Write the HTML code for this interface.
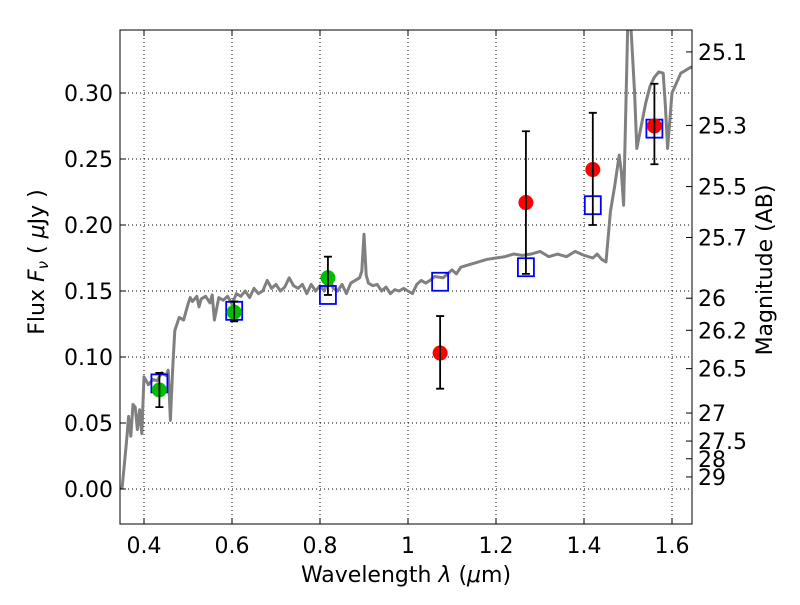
<!DOCTYPE html>
<html><head><meta charset="utf-8"><style>
body{margin:0;background:#fff;}
svg text{font-family:"DejaVu Sans","Liberation Sans",sans-serif;font-size:22px;fill:#000;}
</style></head><body>
<svg id="chart" width="800" height="600" xmlns="http://www.w3.org/2000/svg">
<defs><clipPath id="clip"><rect x="120" y="30" width="572" height="494"/></clipPath></defs>
<g id="grid"></g>
<g id="marks" clip-path="url(#clip)"></g>
<rect x="120" y="30" width="572" height="494" fill="none" stroke="#000" stroke-width="1"/>
<g id="axes"></g>
<text x="406" y="582" text-anchor="middle">Wavelength  <tspan font-style="italic">λ</tspan> (<tspan font-style="italic">μ</tspan>m)</text>
<text transform="translate(44,262) rotate(-90)" text-anchor="middle">Flux  <tspan font-style="italic">F<tspan font-size="15" dy="4">ν</tspan></tspan><tspan dy="-4">  (  </tspan><tspan font-style="italic">μ</tspan>Jy )</text>
<text transform="translate(772,270) rotate(-90)" text-anchor="middle">Magnitude (AB)</text>
</svg>
<script>
const xTicks=[0.4,0.6,0.8,1.0,1.2,1.4,1.6];
const xTickLabels=["0.4","0.6","0.8","1","1.2","1.4","1.6"];
const yTicks=[0,0.05,0.10,0.15,0.20,0.25,0.30];
const yTickLabels=["0.00","0.05","0.10","0.15","0.20","0.25","0.30"];
const magTicks=[25.1,25.3,25.5,25.7,26,26.2,26.5,27,27.5,28,29];
const specWave=[0.35,0.36,0.365,0.37,0.375,0.38,0.385,0.39,0.395,0.40,0.41,0.42,0.43,0.44,0.45,0.455,0.46,0.465,0.47,0.48,0.49,0.50,0.505,0.51,0.52,0.525,0.53,0.54,0.55,0.555,0.56,0.57,0.58,0.59,0.60,0.61,0.62,0.63,0.64,0.65,0.66,0.67,0.68,0.69,0.70,0.71,0.72,0.73,0.74,0.75,0.76,0.77,0.78,0.79,0.80,0.81,0.82,0.83,0.84,0.85,0.86,0.87,0.88,0.89,0.895,0.90,0.905,0.91,0.92,0.93,0.94,0.95,0.96,0.97,0.98,0.99,1.0,1.01,1.02,1.03,1.04,1.05,1.06,1.08,1.1,1.11,1.12,1.14,1.16,1.18,1.2,1.22,1.24,1.26,1.28,1.3,1.32,1.34,1.36,1.38,1.4,1.42,1.43,1.44,1.45,1.46,1.47,1.48,1.485,1.49,1.50,1.505,1.51,1.515,1.52,1.53,1.54,1.55,1.56,1.57,1.58,1.585,1.59,1.60,1.62,1.645];
const specFlux=[0.0,0.035,0.055,0.040,0.064,0.062,0.045,0.060,0.042,0.085,0.079,0.083,0.082,0.088,0.086,0.090,0.052,0.090,0.120,0.130,0.128,0.140,0.145,0.142,0.146,0.138,0.144,0.146,0.141,0.147,0.128,0.145,0.143,0.146,0.140,0.148,0.146,0.150,0.145,0.152,0.148,0.150,0.158,0.152,0.155,0.150,0.153,0.160,0.154,0.152,0.155,0.148,0.155,0.150,0.154,0.150,0.162,0.152,0.150,0.155,0.148,0.156,0.158,0.160,0.165,0.193,0.162,0.156,0.154,0.155,0.150,0.153,0.148,0.151,0.150,0.152,0.150,0.148,0.155,0.158,0.156,0.158,0.161,0.160,0.166,0.163,0.168,0.170,0.172,0.174,0.175,0.176,0.178,0.177,0.178,0.180,0.176,0.178,0.176,0.180,0.177,0.175,0.178,0.174,0.172,0.210,0.230,0.253,0.240,0.215,0.36,0.36,0.33,0.30,0.258,0.275,0.292,0.305,0.312,0.316,0.315,0.290,0.258,0.300,0.315,0.320];
const photWave=[0.435,0.605,0.818];
const photFlux=[0.075,0.134,0.160];
const photLo=[0.062,0.127,0.147];
const photHi=[0.088,0.142,0.176];
const nirWave=[1.073,1.268,1.42,1.56];
const nirFlux=[0.103,0.217,0.242,0.275];
const nirLo=[0.076,0.163,0.200,0.246];
const nirHi=[0.131,0.271,0.285,0.307];
const modelWave=[0.435,0.605,0.818,1.073,1.268,1.42,1.56];
const modelFlux=[0.080,0.135,0.147,0.157,0.168,0.215,0.273];

const X=v=>144+(v-0.4)*440;
const Y=v=>489-v*1320;
const NS="http://www.w3.org/2000/svg";
function mk(tag,attrs,parent){const e=document.createElementNS(NS,tag);for(const k in attrs)e.setAttribute(k,attrs[k]);parent.appendChild(e);return e;}
const grid=document.getElementById('grid'),marks=document.getElementById('marks'),axes=document.getElementById('axes');
xTicks.forEach((t,i)=>{
 const g=mk('line',{x1:X(t),x2:X(t),y1:30,y2:524,stroke:'#000','stroke-dasharray':'1,3','stroke-width':1},grid);
 
 
 mk('line',{x1:X(t),x2:X(t),y1:524,y2:518,stroke:'#000'},axes);
 mk('line',{x1:X(t),x2:X(t),y1:30,y2:36,stroke:'#000'},axes);
 const l=mk('text',{x:X(t),y:553,'text-anchor':'middle'},axes);l.textContent=xTickLabels[i];
 
 
});
yTicks.forEach((t,i)=>{
 const g=mk('line',{x1:120,x2:692,y1:Y(t),y2:Y(t),stroke:'#000','stroke-dasharray':'1,3','stroke-width':1},grid);
 
 
 mk('line',{x1:120,x2:126,y1:Y(t),y2:Y(t),stroke:'#000'},axes);
 const l=mk('text',{x:113,y:Y(t)+8,'text-anchor':'end'},axes);l.textContent=yTickLabels[i];
 
 
});
magTicks.forEach(m=>{
 const f=Math.pow(10,(23.9-m)/2.5);const y=Y(f);
 mk('line',{x1:692,x2:686,y1:y,y2:y,stroke:'#000'},axes);
 const l=mk('text',{x:698,y:y+8},axes);l.textContent=String(m);
 
 
});
const sp=mk('polyline',{points:specWave.map((w,i)=>X(w)+','+Y(specFlux[i])).join(' '),fill:'none',stroke:'#808080','stroke-width':3,'stroke-linejoin':'round'},marks);


modelWave.forEach((w,i)=>{
 const r=mk('rect',{x:X(w)-8,y:Y(modelFlux[i])-9,width:16,height:18,fill:'none',stroke:'#0000ff','stroke-width':1.8},marks);
 
 
});
function pts(ws,fs,lo,hi,col,name){
 ws.forEach((w,i)=>{
  const c=mk('circle',{cx:X(w),cy:Y(fs[i]),r:7.5,fill:col},marks);
  
  
  const e=mk('path',{d:`M${X(w)},${Y(lo[i])}V${Y(hi[i])}M${X(w)-4},${Y(lo[i])}h8M${X(w)-4},${Y(hi[i])}h8`,stroke:'#000','stroke-width':1.8,fill:'none'},marks);
  
  
 });
}
pts(photWave,photFlux,photLo,photHi,'#00bf00','optical-point');
pts(nirWave,nirFlux,nirLo,nirHi,'#ff0000','nir-point');
</script>
</body></html>
